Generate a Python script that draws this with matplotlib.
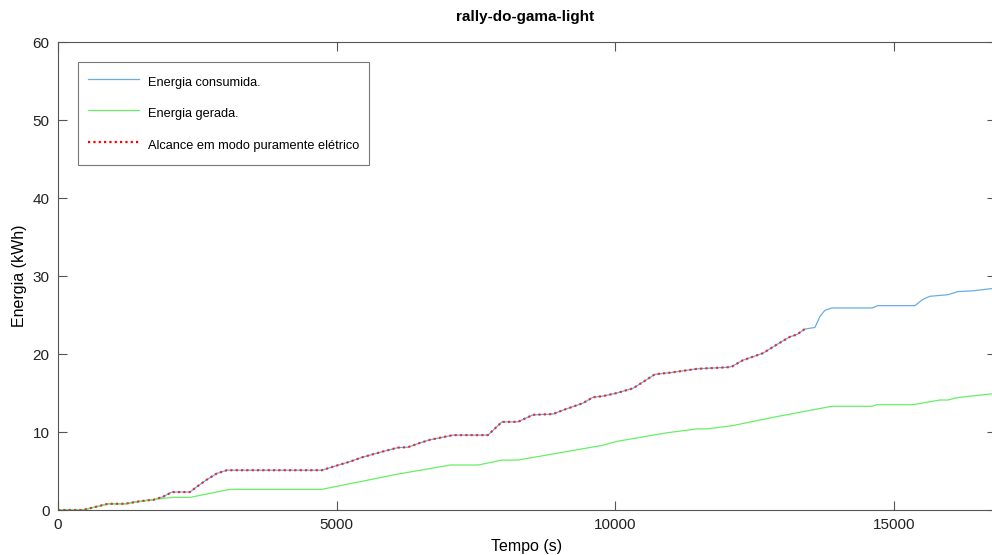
import matplotlib.pyplot as plt
import numpy as np

plt.rcParams['font.family'] = ['Liberation Sans', 'DejaVu Sans']

# Energia consumida (tempo em s, energia em kWh)
t_cons = [0, 449, 897, 1202, 1417, 1597, 1704, 1884, 2045, 2368, 2494, 2673,
          2853, 3032, 4736, 4934, 5238, 5454, 5830, 6100, 6279, 6494, 6674,
          7086, 7714, 7965, 8252, 8522, 8880, 9060, 9419, 9598, 9777, 10029,
          10316, 10495, 10710, 10979, 11464, 12020, 12092, 12289, 12648, 12917,
          13132, 13258, 13401, 13581, 13670, 13760, 13886, 14603, 14711, 15375,
          15518, 15644, 15967, 16146, 16415, 16830]
e_cons = [0, 0, 0.8, 0.8, 1.07, 1.24, 1.28, 1.7, 2.3, 2.3, 3.0, 3.9,
          4.7, 5.1, 5.1, 5.55, 6.2, 6.75, 7.5, 8.0, 8.05, 8.6, 9.0,
          9.6, 9.6, 11.3, 11.3, 12.2, 12.3, 12.8, 13.7, 14.45, 14.6, 15.0,
          15.6, 16.4, 17.4, 17.6, 18.1, 18.3, 18.4, 19.2, 20.1, 21.3,
          22.2, 22.5, 23.2, 23.4, 24.8, 25.6, 25.9, 25.9, 26.2, 26.2,
          27.0, 27.4, 27.6, 28.0, 28.1, 28.45]

# Energia gerada
t_ger = [0, 449, 897, 1202, 1651, 1830, 2069, 2368, 3086, 4736, 6100, 7040,
         7543, 7965, 8252, 9777, 10029, 10926, 11464, 11643, 12092, 12917,
         13886, 14603, 14693, 15339, 15823, 15967, 16128, 16830]
e_ger = [0, 0, 0.77, 0.77, 1.28, 1.45, 1.62, 1.62, 2.65, 2.65, 4.6, 5.77,
         5.77, 6.4, 6.4, 8.3, 8.8, 9.9, 10.4, 10.4, 10.8, 12.0,
         13.3, 13.3, 13.5, 13.5, 14.1, 14.1, 14.4, 14.95]

# limite do modo puramente elétrico
t_limite = 13401

t_cons = np.array(t_cons)
e_cons = np.array(e_cons)
mask = t_cons <= t_limite

fig = plt.figure(figsize=(9.92, 5.55), dpi=100)
ax = fig.add_axes([58 / 992, 1 - 510 / 555, (996 - 58) / 992, 468 / 555])

ax.plot(t_cons, e_cons, color='#6aaee0', lw=0.9, label='Energia consumida.')
ax.plot(t_ger, e_ger, color='#66f066', lw=0.9, label='Energia gerada.')
ax.plot(t_cons[mask], e_cons[mask], color='red', lw=1.6, alpha=0.75,
        linestyle=(0, (1, 1.4)), label='Alcance em modo puramente elétrico')

ax.set_xlim(0, 16830)
ax.set_ylim(0, 60)
ax.set_xticks([0, 5000, 10000, 15000])
ax.set_yticks(range(0, 61, 10))

for s in ax.spines.values():
    s.set_color('#555555')
    s.set_linewidth(0.8)
ax.tick_params(direction='in', length=6.5, width=0.8, color='#555555',
               labelsize=11, labelcolor='#222222', top=True, right=True)
ax.tick_params(axis='x', pad=6)
ax.tick_params(axis='y', pad=6)

ax.set_xlabel('Tempo (s)', fontsize=11.5, labelpad=5)
ax.set_ylabel('Energia (kWh)', fontsize=11.5, labelpad=4)
fig.text(525 / 992, 1 - 17 / 555, 'rally-do-gama-light', ha='center',
         va='center', fontsize=11, fontweight='bold')

leg = ax.legend(loc='upper left', bbox_to_anchor=(78 / 992, 1 - 62 / 555),
                bbox_transform=fig.transFigure, fontsize=9.2, frameon=True,
                fancybox=False, borderaxespad=0, borderpad=0.75,
                labelspacing=0.88, handleheight=2.08, handlelength=4.0,
                handletextpad=0.72)
leg.get_frame().set_edgecolor('#555555')
leg.get_frame().set_linewidth(0.8)
leg.legend_handles[2].set_alpha(1)

fig.savefig('out.png', dpi=100)
